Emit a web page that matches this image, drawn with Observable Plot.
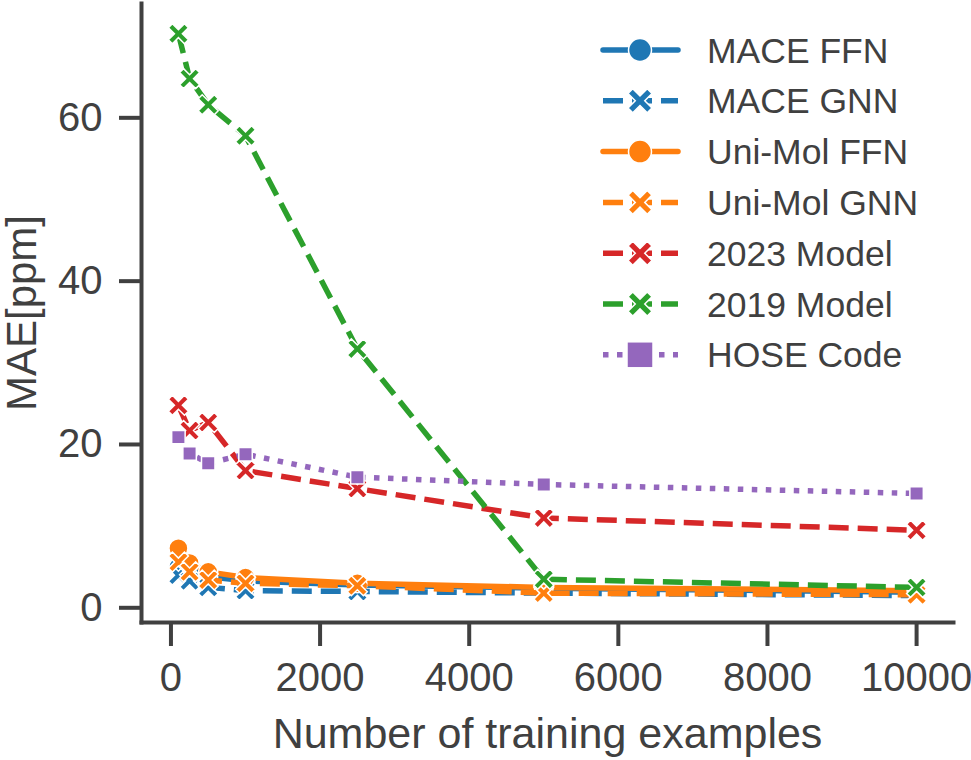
<!DOCTYPE html>
<html><head><meta charset="utf-8">
<script src="https://cdn.jsdelivr.net/npm/d3@7"></script>
<script src="https://cdn.jsdelivr.net/npm/@observablehq/plot@0.6"></script>
<style>
body{margin:0;background:#fff;}
#wrap{position:relative;width:971px;height:760px;font-family:"Liberation Sans",Arial,sans-serif;}
#legend{position:absolute;left:0;top:0;pointer-events:none;}
</style></head><body><div id="wrap"></div>
<script>
const trainSizes = [100, 250, 500, 1000, 2500, 5000, 10000];
const maceFFN   = [5.0, 4.4, 3.8, 3.3, 2.8, 2.4, 1.9];
const maceGNN   = [4.0, 3.3, 2.5, 2.1, 2.0, 1.8, 1.5];
const uniMolFFN = [7.3, 5.5, 4.4, 3.7, 3.0, 2.5, 2.1];
const uniMolGNN = [5.6, 4.4, 3.4, 3.0, 2.7, 1.8, 1.6];
const model2023 = [24.8, 21.7, 22.7, 16.8, 14.6, 11.0, 9.5];
const model2019 = [70.3, 64.8, 61.6, 57.8, 31.7, 3.5, 2.5];
const hoseCode  = [20.9, 18.9, 17.7, 18.8, 16.0, 15.1, 14.0];

const seriesNames   = ["MACE FFN", "MACE GNN", "Uni-Mol FFN", "Uni-Mol GNN", "2023 Model", "2019 Model", "HOSE Code"];
const seriesValues  = [maceFFN, maceGNN, uniMolFFN, uniMolGNN, model2023, model2019, hoseCode];
const seriesColors  = ["#1f77b4", "#1f77b4", "#ff7f0e", "#ff7f0e", "#d62728", "#2ca02c", "#9467bd"];
const seriesMarkers = ["circle", "x", "circle", "x", "x", "x", "square"];
const seriesStyles  = ["solid", "dashed", "solid", "dashed", "dashed", "dashed", "dotted"];

const xTicks = [0, 2000, 4000, 6000, 8000, 10000];
const yTicks = [0, 20, 40, 60];
const xLabel = "Number of training examples";
const yLabel = "MAE[ppm]";

const ink = "#404040";
const dashes = {solid: null, dashed: "20,9", dotted: "5.5,8.5"};

function xPath(ctx, h) {
  const t = h * 0.28;
  const a = h, b = h - Math.SQRT2 * t, c = t * Math.SQRT2;
  ctx.moveTo(c, 0); ctx.lineTo(a, b); ctx.lineTo(b, a); ctx.lineTo(0, c);
  ctx.lineTo(-b, a); ctx.lineTo(-a, b); ctx.lineTo(-c, 0); ctx.lineTo(-a, -b);
  ctx.lineTo(-b, -a); ctx.lineTo(0, -c); ctx.lineTo(b, -a); ctx.lineTo(a, -b);
  ctx.closePath();
}
const filledX = {draw(ctx, size) { xPath(ctx, Math.sqrt(size / Math.PI)); }};
const symbolFor = m => m === "x" ? filledX : m;
const rFor = m => m === "circle" ? 9.5 : m === "x" ? 10 : 7.6;

const marks = [
  Plot.frame({anchor: "left", stroke: ink, strokeWidth: 4, strokeLinecap: "square"}),
  Plot.frame({anchor: "bottom", stroke: ink, strokeWidth: 4, strokeLinecap: "square"}),
  Plot.axisX({ticks: xTicks, tickSize: 24, tickPadding: 16, fontSize: 40, strokeWidth: 4, tickFormat: d3.format("d"), label: null}),
  Plot.axisY({ticks: yTicks, tickSize: 22, tickPadding: 17, fontSize: 40, strokeWidth: 4, tickFormat: d3.format("d"), label: null}),
  Plot.text([xLabel], {text: d => d, frameAnchor: "bottom", textAnchor: "middle", lineAnchor: "bottom", dy: 125, fontSize: 43, fill: ink}),
  Plot.text([yLabel], {text: d => d, frameAnchor: "left", textAnchor: "middle", lineAnchor: "bottom", rotate: -90, dx: -106, fontSize: 42, fill: ink})
];

seriesValues.forEach((vals, s) => {
  const rows = trainSizes.map((n, i) => ({n, v: vals[i]}));
  const style = seriesStyles[s];
  marks.push(Plot.line(rows, {
    x: "n", y: "v", stroke: seriesColors[s], strokeWidth: 5.5,
    strokeDasharray: dashes[style] || undefined,
    strokeLinecap: style === "solid" ? "round" : "butt", strokeLinejoin: "round"
  }));
  marks.push(Plot.dot(rows, {
    x: "n", y: "v", symbol: symbolFor(seriesMarkers[s]), r: rFor(seriesMarkers[s]),
    fill: seriesColors[s], stroke: "white", strokeWidth: 1.5
  }));
});

const chart = Plot.plot({
  width: 971, height: 760,
  marginLeft: 141, marginRight: 18, marginTop: 3, marginBottom: 138,
  x: {domain: [-395, 10495]},
  y: {domain: [-1.8, 74]},
  style: {fontFamily: "'Liberation Sans', Arial, sans-serif", color: ink, background: "white", overflow: "visible"},
  marks
});
document.getElementById("wrap").appendChild(chart);

// legend
const leg = d3.select("#wrap").append("svg").attr("id", "legend")
  .attr("width", 971).attr("height", 760);
seriesNames.forEach((name, i) => {
  const cy = 50 + i * 50.8;
  const style = seriesStyles[i];
  const g = leg.append("g");
  g.append("line").attr("x1", 603).attr("x2", 678).attr("y1", cy).attr("y2", cy)
    .attr("stroke", seriesColors[i]).attr("stroke-width", 5.5)
    .attr("stroke-dasharray", dashes[style])
    .attr("stroke-linecap", style === "solid" ? "round" : "butt");
  const m = seriesMarkers[i];
  if (m === "circle") {
    g.append("circle").attr("cx", 640).attr("cy", cy).attr("r", 11.5)
      .attr("fill", seriesColors[i]).attr("stroke", "white").attr("stroke-width", 1.5);
  } else if (m === "square") {
    g.append("rect").attr("x", 640 - 13).attr("y", cy - 13).attr("width", 26).attr("height", 26)
      .attr("fill", seriesColors[i]).attr("stroke", "white").attr("stroke-width", 1.5);
  } else {
    const p = d3.path(); xPath(p, 12);
    g.append("path").attr("d", p.toString()).attr("transform", `translate(640,${cy})`)
      .attr("fill", seriesColors[i]).attr("stroke", "white").attr("stroke-width", 1.5);
  }
  g.append("text").attr("x", 707).attr("y", cy + 12.5).attr("font-size", 35.5)
    .attr("fill", ink).text(name);
});
</script></body></html>
